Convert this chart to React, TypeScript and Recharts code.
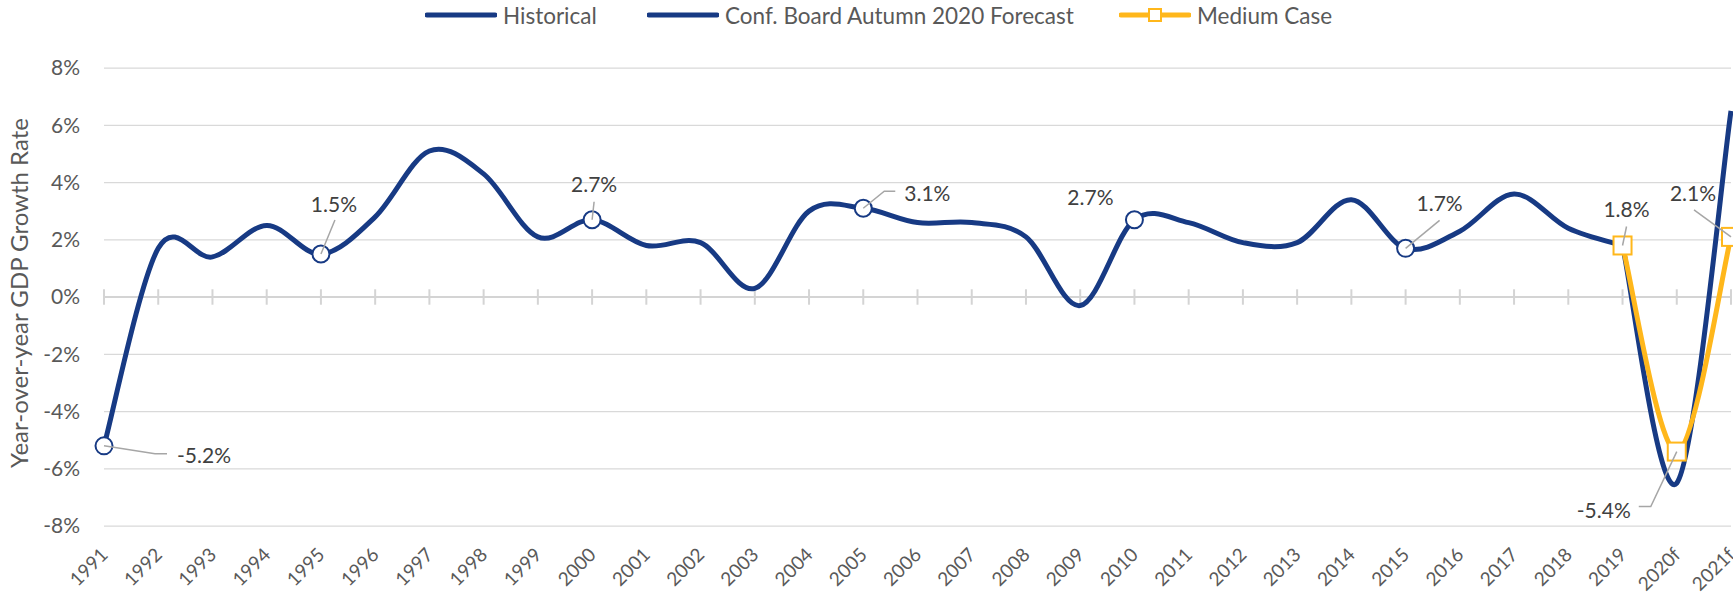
import React from "react";
import {
  LineChart,
  Line,
  XAxis,
  YAxis,
  CartesianGrid,
  ReferenceLine,
  Legend,
  LabelList,
} from "recharts";

const years = [
  "1991", "1992", "1993", "1994", "1995", "1996", "1997", "1998", "1999", "2000",
  "2001", "2002", "2003", "2004", "2005", "2006", "2007", "2008", "2009", "2010",
  "2011", "2012", "2013", "2014", "2015", "2016", "2017", "2018", "2019", "2020f", "2021f",
];

// year-over-year GDP growth, %
const historical = [
  -5.2, 1.7, 1.4, 2.5, 1.5, 2.8, 5.1, 4.3, 2.1, 2.7,
  1.8, 1.9, 0.3, 3.0, 3.1, 2.6, 2.6, 2.1, -0.3, 2.7,
  2.6, 1.9, 1.9, 3.4, 1.7, 2.3, 3.6, 2.4, 1.8, null, null,
];
const confBoard = [
  null, null, null, null, null, null, null, null, null, null,
  null, null, null, null, null, null, null, null, null, null,
  null, null, null, null, null, null, null, null, 1.8, -6.5, 6.5,
];
const mediumCase = [
  null, null, null, null, null, null, null, null, null, null,
  null, null, null, null, null, null, null, null, null, null,
  null, null, null, null, null, null, null, null, 1.8, -5.4, 2.1,
];

const yTicks = [-8, -6, -4, -2, 0, 2, 4, 6, 8];

const data = years.map((year, i) => ({
  year,
  historical: historical[i],
  confBoard: confBoard[i],
  medium: mediumCase[i],
}));

const NAVY = "#173a84";
const GOLD = "#ffb71b";
const GREY_TEXT = "#595959";

// Excel style smoothing (bezier, control points at 1/6 of neighbour span)
const excelSmooth = (context: any) => {
  let pts: number[][] = [];
  return {
    areaStart() {},
    areaEnd() {},
    lineStart() {
      pts = [];
    },
    point(x: number, y: number) {
      pts.push([+x, +y]);
    },
    lineEnd() {
      const n = pts.length;
      if (!n) return;
      context.moveTo(pts[0][0], pts[0][1]);
      for (let i = 0; i < n - 1; i++) {
        const p0 = pts[Math.max(i - 1, 0)];
        const p1 = pts[i];
        const p2 = pts[i + 1];
        const p3 = pts[Math.min(i + 2, n - 1)];
        context.bezierCurveTo(
          p1[0] + (p2[0] - p0[0]) / 6,
          p1[1] + (p2[1] - p0[1]) / 6,
          p2[0] - (p3[0] - p1[0]) / 6,
          p2[1] - (p3[1] - p1[1]) / 6,
          p2[0],
          p2[1]
        );
      }
    },
  };
};

// label placement, relative to the point
const histLabels: Record<string, any> = {
  "1991": { dx: 73, dy: 9, anchor: "start", leader: [[0, 0], [51, 8], [63, 8]] },
  "1995": { dx: 13, dy: -51, anchor: "middle", leader: [[0, 0], [14, -34]] },
  "2000": { dx: 2, dy: -36, anchor: "middle", leader: [[0, 0], [2, -18]] },
  "2005": { dx: 41, dy: -16, anchor: "start", leader: [[0, 0], [21, -17], [32, -17]] },
  "2010": { dx: -44, dy: -23, anchor: "middle" },
  "2015": { dx: 34, dy: -46, anchor: "middle", leader: [[0, 0], [34, -28]] },
};
const mediumLabels: Record<string, any> = {
  "2019": { dx: 4, dy: -37, anchor: "middle", leader: [[0, 0], [4, -19]] },
  "2020f": { dx: -46, dy: 58, anchor: "end", leader: [[0, 0], [-26, 55], [-38, 55]] },
  "2021f": { dx: -38, dy: -44, anchor: "middle", leader: [[0, 0], [-37, -27]] },
};

const makeLabel = (placements: Record<string, any>) => (props: any) => {
  const { x, y, index, value } = props;
  const p = placements[years[index]];
  if (!p || value == null) return null;
  return (
    <g key={`lbl-${index}`}>
      {p.leader && (
        <polyline
          points={p.leader.map(([a, b]: number[]) => `${x + a},${y + b}`).join(" ")}
          fill="none"
          stroke="#a6a6a6"
          strokeWidth={1.5}
        />
      )}
      <text
        x={x + p.dx}
        y={y + p.dy}
        textAnchor={p.anchor}
        dominantBaseline="central"
        fontSize={21}
        fill="#404040"
      >
        {Number(value).toFixed(1)}%
      </text>
    </g>
  );
};

const histDot = (props: any) => {
  const { cx, cy, index } = props;
  if (cy == null || !histLabels[years[index]]) return <g key={`hd-${index}`} />;
  return (
    <circle key={`hd-${index}`} cx={cx} cy={cy} r={8.5} fill="#fff" stroke={NAVY} strokeWidth={2} />
  );
};

const squareDot = (props: any) => {
  const { cx, cy, index } = props;
  if (cy == null) return <g key={`sq-${index}`} />;
  return (
    <rect key={`sq-${index}`} x={cx - 9} y={cy - 9} width={18} height={18} fill="#fff" stroke={GOLD} strokeWidth={2} />
  );
};

const XTick = (props: any) => {
  const { x, y, payload } = props;
  const tx = x + 5;
  const ty = y + 22;
  return (
    <text x={tx} y={ty} transform={`rotate(-45 ${tx} ${ty})`} textAnchor="end" fontSize={19} fill={GREY_TEXT}>
      {payload.value}
    </text>
  );
};

const YTitle = (props: any) => {
  const { viewBox } = props;
  const cy = viewBox.y + viewBox.height / 2 - 4;
  return (
    <text
      x={18}
      y={cy}
      transform={`rotate(-90 18 ${cy})`}
      textAnchor="middle"
      dominantBaseline="central"
      fontSize={24}
      fill={GREY_TEXT}
    >
      Year-over-year GDP Growth Rate
    </text>
  );
};

const legendItems = [
  { name: "Historical", color: NAVY, left: 425, marker: false },
  { name: "Conf. Board Autumn 2020 Forecast", color: NAVY, left: 647, marker: false },
  { name: "Medium Case", color: GOLD, left: 1119, marker: true },
];

const LegendContent = () => (
  <div style={{ position: "relative", width: 1733, height: 30 }}>
    {legendItems.map((item) => (
      <div
        key={item.name}
        style={{ position: "absolute", left: item.left, top: 0, height: 30, display: "flex", alignItems: "center" }}
      >
        <svg width={72} height={30}>
          <line x1={2} y1={15} x2={70} y2={15} stroke={item.color} strokeWidth={5} strokeLinecap="round" />
          {item.marker && <rect x={30} y={9} width={12} height={12} fill="#fff" stroke={GOLD} strokeWidth={2} />}
        </svg>
        <span style={{ marginLeft: 6, fontSize: 22.5, color: GREY_TEXT, whiteSpace: "nowrap" }}>{item.name}</span>
      </div>
    ))}
  </div>
);

export default function App() {
  return (
    <div style={{ position: "absolute", left: 0, top: 0, fontFamily: "Lato, 'Open Sans', sans-serif" }}>
      <LineChart width={1733} height={600} data={data} margin={{ top: 38, right: 2, bottom: 0, left: 0 }}>
        <Legend verticalAlign="top" content={<LegendContent />} wrapperStyle={{ top: 0, left: 0, width: 1733, height: 30 }} />
        <CartesianGrid vertical={false} stroke="#d9d9d9" strokeWidth={1.25} />
        <XAxis dataKey="year" height={74} axisLine={false} tickLine={false} interval={0} tick={<XTick />} />
        <YAxis
          width={104}
          domain={[-8, 8]}
          ticks={yTicks}
          axisLine={false}
          tickLine={false}
          tickMargin={18}
          tickFormatter={(v) => `${v}%`}
          tick={{ fontSize: 21, fill: GREY_TEXT }}
          label={<YTitle />}
        />
        <ReferenceLine y={0} stroke="#d4d4d4" strokeWidth={2} />
        {years.map((yr) => (
          <ReferenceLine
            key={`tick-${yr}`}
            segment={[
              { x: yr, y: -0.27 },
              { x: yr, y: 0.27 },
            ]}
            stroke="#d4d4d4"
            strokeWidth={2}
          />
        ))}
        <Line
          dataKey="historical"
          name="Historical"
          type={excelSmooth as any}
          stroke={NAVY}
          strokeWidth={5}
          dot={histDot}
          activeDot={false}
          isAnimationActive={false}
        >
          <LabelList dataKey="historical" content={makeLabel(histLabels)} />
        </Line>
        <Line
          dataKey="confBoard"
          name="Conf. Board Autumn 2020 Forecast"
          type={excelSmooth as any}
          stroke={NAVY}
          strokeWidth={5}
          dot={false}
          activeDot={false}
          isAnimationActive={false}
        />
        <Line
          dataKey="medium"
          name="Medium Case"
          type={excelSmooth as any}
          stroke={GOLD}
          strokeWidth={5}
          dot={squareDot}
          activeDot={false}
          isAnimationActive={false}
        >
          <LabelList dataKey="medium" content={makeLabel(mediumLabels)} />
        </Line>
      </LineChart>
    </div>
  );
}
